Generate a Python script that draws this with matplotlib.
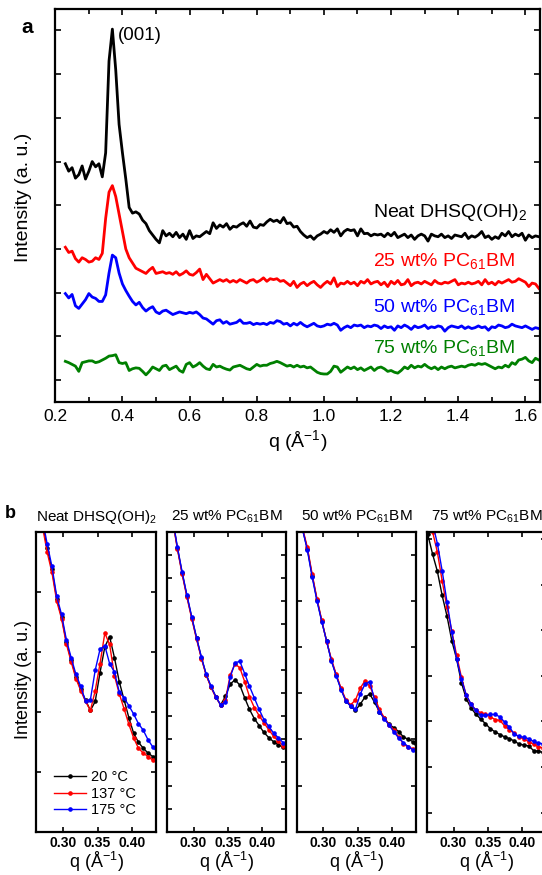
import matplotlib
matplotlib.use("Agg")
import matplotlib.pyplot as plt
import numpy as np
from matplotlib.ticker import MultipleLocator

plt.rcParams["font.family"] = ["Liberation Sans", "DejaVu Sans"]
plt.rcParams["mathtext.fontset"] = "custom"
plt.rcParams["mathtext.rm"] = "Liberation Sans"
plt.rcParams["mathtext.it"] = "Liberation Sans:italic"
plt.rcParams["mathtext.bf"] = "Liberation Sans:bold"

# ---------------------------------------------------------------
# (a) 1D GIWAXS line cuts, offset for clarity (arb. units)
# ---------------------------------------------------------------
q_a = np.round(np.arange(0.23, 1.645, 0.01), 2)

neat_a = [4.95, 4.78, 4.86, 4.62, 4.70, 4.90, 4.60, 4.78, 5.00, 4.88,
          4.95, 4.65, 5.20, 7.30, 8.03, 7.10, 5.85, 5.20, 4.60, 3.95,
          3.82, 3.85, 3.80, 3.66, 3.58, 3.42, 3.32, 3.22, 3.14, 3.42,
          3.30, 3.36, 3.28, 3.38, 3.26, 3.34, 3.22, 3.42, 3.24, 3.30,
          3.28, 3.34, 3.40, 3.35, 3.60, 3.47, 3.55, 3.50, 3.58, 3.45,
          3.52, 3.50, 3.56, 3.60, 3.52, 3.64, 3.50, 3.48, 3.56, 3.54,
          3.62, 3.68, 3.63, 3.66, 3.60, 3.72, 3.58, 3.60, 3.50, 3.52,
          3.40, 3.32, 3.26, 3.30, 3.22, 3.30, 3.34, 3.40, 3.36, 3.44,
          3.38, 3.46, 3.30, 3.40, 3.45, 3.42, 3.44, 3.30, 3.46, 3.35,
          3.36, 3.30, 3.34, 3.32, 3.34, 3.28, 3.36, 3.30, 3.38, 3.26,
          3.30, 3.34, 3.26, 3.32, 3.22, 3.30, 3.34, 3.30, 3.18, 3.34,
          3.30, 3.28, 3.34, 3.26, 3.30, 3.24, 3.32, 3.30, 3.28, 3.36,
          3.24, 3.30, 3.27, 3.32, 3.40, 3.26, 3.30, 3.22, 3.28, 3.24,
          3.36, 3.30, 3.40, 3.28, 3.34, 3.30, 3.36, 3.20, 3.32, 3.26,
          3.30, 3.28]

pc25_a = [3.04, 2.92, 2.95, 2.78, 2.70, 2.80, 2.76, 2.70, 2.72, 2.80,
          2.76, 2.90, 3.70, 4.30, 4.45, 4.20, 3.80, 3.40, 3.00, 2.80,
          2.68, 2.56, 2.52, 2.48, 2.44, 2.52, 2.58, 2.44, 2.46, 2.48,
          2.44, 2.46, 2.42, 2.48, 2.40, 2.44, 2.50, 2.42, 2.40, 2.46,
          2.54, 2.30, 2.42, 2.32, 2.22, 2.26, 2.30, 2.26, 2.30, 2.24,
          2.28, 2.24, 2.30, 2.26, 2.22, 2.28, 2.30, 2.24, 2.28, 2.34,
          2.26, 2.32, 2.30, 2.32, 2.26, 2.28, 2.22, 2.16, 2.26, 2.12,
          2.20, 2.24, 2.16, 2.22, 2.26, 2.18, 2.12, 2.20, 2.26, 2.20,
          2.34, 2.14, 2.22, 2.20, 2.26, 2.20, 2.24, 2.16, 2.26, 2.22,
          2.30, 2.20, 2.24, 2.26, 2.18, 2.24, 2.14, 2.26, 2.20, 2.28,
          2.18, 2.20, 2.30, 2.16, 2.22, 2.24, 2.20, 2.26, 2.22, 2.18,
          2.28, 2.22, 2.20, 2.24, 2.22, 2.26, 2.30, 2.18, 2.22, 2.20,
          2.24, 2.20, 2.22, 2.26, 2.18, 2.30, 2.20, 2.24, 2.18, 2.26,
          2.22, 2.26, 2.30, 2.24, 2.26, 2.32, 2.28, 2.24, 2.14, 2.22,
          2.20, 2.10]

pc50_a = [1.98, 1.88, 1.96, 1.70, 1.64, 1.74, 1.84, 1.98, 1.90, 1.87,
          1.80, 1.80, 1.95, 2.45, 2.86, 2.80, 2.45, 2.20, 2.05, 1.92,
          1.80, 1.72, 1.78, 1.66, 1.58, 1.64, 1.68, 1.56, 1.52, 1.58,
          1.60, 1.55, 1.50, 1.53, 1.56, 1.54, 1.52, 1.55, 1.53, 1.56,
          1.50, 1.42, 1.40, 1.34, 1.28, 1.36, 1.38, 1.30, 1.34, 1.28,
          1.30, 1.32, 1.38, 1.30, 1.30, 1.32, 1.27, 1.30, 1.28, 1.30,
          1.27, 1.32, 1.30, 1.36, 1.34, 1.28, 1.30, 1.24, 1.30, 1.26,
          1.32, 1.26, 1.22, 1.26, 1.30, 1.24, 1.22, 1.24, 1.28, 1.26,
          1.30, 1.26, 1.14, 1.20, 1.24, 1.20, 1.26, 1.24, 1.26, 1.20,
          1.24, 1.22, 1.26, 1.24, 1.18, 1.24, 1.20, 1.22, 1.14, 1.24,
          1.20, 1.26, 1.22, 1.16, 1.24, 1.20, 1.22, 1.26, 1.18, 1.22,
          1.20, 1.24, 1.22, 1.12, 1.20, 1.24, 1.22, 1.20, 1.24, 1.18,
          1.22, 1.18, 1.20, 1.24, 1.20, 1.22, 1.14, 1.22, 1.20, 1.26,
          1.24, 1.20, 1.22, 1.28, 1.24, 1.22, 1.20, 1.24, 1.20, 1.16,
          1.20, 1.18]

pc75_a = [0.43, 0.40, 0.36, 0.32, 0.20, 0.40, 0.42, 0.44, 0.44, 0.40,
          0.42, 0.46, 0.50, 0.55, 0.56, 0.58, 0.40, 0.38, 0.40, 0.22,
          0.26, 0.28, 0.27, 0.20, 0.12, 0.20, 0.30, 0.26, 0.22, 0.32,
          0.34, 0.24, 0.28, 0.32, 0.22, 0.18, 0.36, 0.40, 0.30, 0.34,
          0.40, 0.32, 0.26, 0.24, 0.36, 0.30, 0.32, 0.28, 0.25, 0.23,
          0.30, 0.32, 0.34, 0.30, 0.26, 0.24, 0.30, 0.36, 0.32, 0.34,
          0.34, 0.38, 0.40, 0.43, 0.40, 0.36, 0.32, 0.34, 0.30, 0.34,
          0.30, 0.32, 0.28, 0.30, 0.24, 0.18, 0.15, 0.14, 0.14, 0.20,
          0.32, 0.30, 0.18, 0.24, 0.30, 0.26, 0.30, 0.24, 0.28, 0.22,
          0.26, 0.30, 0.22, 0.28, 0.30, 0.26, 0.20, 0.22, 0.18, 0.16,
          0.22, 0.30, 0.26, 0.34, 0.28, 0.32, 0.30, 0.36, 0.30, 0.26,
          0.30, 0.24, 0.30, 0.26, 0.30, 0.32, 0.28, 0.30, 0.32, 0.30,
          0.34, 0.36, 0.34, 0.38, 0.36, 0.38, 0.34, 0.30, 0.26, 0.30,
          0.28, 0.34, 0.30, 0.40, 0.36, 0.46, 0.48, 0.52, 0.44, 0.40,
          0.50, 0.46]

series_a = [neat_a, pc25_a, pc50_a, pc75_a]
colors_a = ["black", "#ff0000", "#0000ff", "#008000"]
labels_a = ["Neat DHSQ(OH)$_2$", "25 wt% PC$_{61}$BM",
            "50 wt% PC$_{61}$BM", "75 wt% PC$_{61}$BM"]
label_y_a = [3.73, 2.61, 1.56, 0.61]

# ---------------------------------------------------------------
# (b) temperature series around the (001) peak
# ---------------------------------------------------------------
q_b = [0.2625, 0.2695, 0.2765, 0.2835, 0.2905, 0.2975, 0.3045, 0.3115,
       0.3185, 0.3255, 0.3325, 0.3395, 0.3465, 0.3535, 0.3605, 0.3675,
       0.3745, 0.3815, 0.3885, 0.3955, 0.4025, 0.4095, 0.4165, 0.4235,
       0.4305, 0.4375]

temps = ["20 °C", "137 °C", "175 °C"]
colors_b = ["black", "#ff0000", "#0000ff"]
titles_b = ["Neat DHSQ(OH)$_2$", "25 wt% PC$_{61}$BM",
            "50 wt% PC$_{61}$BM", "75 wt% PC$_{61}$BM"]

neat_20 = [5.60, 5.15, 4.72, 4.37, 3.88, 3.58, 3.16, 2.86, 2.58, 2.37,
           2.19, 2.02, 2.17, 2.65, 3.08, 3.25, 2.90, 2.50, 2.20, 1.90,
           1.64, 1.49, 1.39, 1.31, 1.25, 1.20]
neat_137 = [5.55, 5.10, 4.66, 4.32, 3.84, 3.55, 3.13, 2.83, 2.55, 2.35,
            2.17, 2.02, 2.35, 2.80, 3.31, 3.12, 2.60, 2.30, 2.05, 1.79,
            1.56, 1.39, 1.31, 1.25, 1.19, 1.15]
neat_175 = [5.65, 5.22, 4.80, 4.42, 3.92, 3.62, 3.20, 2.90, 2.62, 2.42,
            2.17, 2.20, 2.69, 3.04, 3.10, 2.80, 2.66, 2.33, 2.23, 2.10,
            1.96, 1.80, 1.69, 1.53, 1.41, 1.32]

pc25_20 = [14.8, 13.56, 12.30, 11.20, 10.20, 9.27, 8.38, 7.54, 6.80, 6.28,
           5.85, 5.49, 5.87, 6.40, 6.58, 6.35, 5.80, 5.30, 4.90, 4.60,
           4.30, 4.08, 3.90, 3.77, 3.65, 3.55]
pc25_137 = [14.8, 13.50, 12.25, 11.15, 10.15, 9.22, 8.33, 7.50, 6.78, 6.25,
            5.82, 5.49, 5.70, 6.80, 7.27, 7.10, 6.50, 5.85, 5.38, 5.03,
            4.72, 4.42, 4.14, 3.92, 3.72, 3.55]
pc25_175 = [14.8, 13.60, 12.34, 11.24, 10.24, 9.30, 8.40, 7.56, 6.82, 6.30,
            5.85, 5.49, 5.60, 6.70, 7.32, 7.38, 6.85, 6.30, 5.80, 5.30,
            4.86, 4.56, 4.28, 4.07, 3.86, 3.70]

pc50_20 = [6.97, 6.55, 6.13, 5.55, 5.03, 4.56, 4.14, 3.71, 3.39, 3.09,
           2.84, 2.72, 2.63, 2.76, 2.92, 2.98, 2.80, 2.60, 2.46, 2.33,
           2.25, 2.17, 2.05, 2.00, 1.95, 1.78]
pc50_137 = [6.97, 6.58, 6.16, 5.58, 5.05, 4.58, 4.12, 3.74, 3.41, 3.11,
            2.86, 2.75, 2.85, 3.11, 3.27, 3.15, 2.91, 2.65, 2.47, 2.32,
            2.20, 2.05, 1.90, 1.83, 1.80, 1.78]
pc50_175 = [6.97, 6.55, 6.10, 5.52, 5.00, 4.55, 4.13, 3.70, 3.38, 3.08,
            2.83, 2.72, 2.65, 2.98, 3.20, 3.25, 2.85, 2.60, 2.44, 2.31,
            2.16, 2.03, 1.93, 1.84, 1.77, 1.70]

pc75_20 = [6.10, 5.67, 5.29, 4.76, 4.31, 3.77, 3.37, 2.85, 2.50, 2.29,
           2.16, 2.05, 1.95, 1.84, 1.77, 1.71, 1.66, 1.62, 1.57, 1.50,
           1.48, 1.46, 1.36, 1.34, 1.32, 1.30]
pc75_137 = [6.60, 6.16, 5.71, 5.08, 4.50, 3.98, 3.45, 2.97, 2.57, 2.37,
            2.25, 2.19, 2.15, 2.10, 2.04, 2.02, 1.90, 1.81, 1.74, 1.65,
            1.62, 1.55, 1.50, 1.44, 1.42, 1.40]
pc75_175 = [6.80, 6.35, 5.90, 5.30, 4.62, 3.96, 3.37, 2.93, 2.58, 2.38,
            2.24, 2.13, 2.13, 2.15, 2.15, 2.10, 1.98, 1.87, 1.72, 1.67,
            1.65, 1.62, 1.56, 1.52, 1.51, 1.50]

series_b = [[neat_20, neat_137, neat_175],
            [pc25_20, pc25_137, pc25_175],
            [pc50_20, pc50_137, pc50_175],
            [pc75_20, pc75_137, pc75_175]]
ylims_b = [(0, 5), (0, 13), (0, 6.5), (-0.42, 6.16)]
yticks_b = [range(0, 6), range(0, 14), range(0, 7), range(0, 7)]

q_label = "q (Å$^{-1}$)"

fig = plt.figure(figsize=(5.42, 8.75), dpi=100)

# ----------------------------- panel a -----------------------------
ax = fig.add_axes([0.102, 0.5406, 0.894, 0.4496])
for y, c in zip(series_a, colors_a):
    ax.plot(q_a, y, color=c, lw=2.0)
for lab, c, yl in zip(labels_a, colors_a, label_y_a):
    ax.text(1.145, yl, lab, color=c, fontsize=14, ha="left", va="baseline")
ax.text(0.387, 7.79, "(001)", fontsize=13.5, ha="left", va="baseline")

ax.set_xlim(0.2, 1.643)
ax.set_ylim(-0.5, 8.5)
ax.set_xticks([0.2, 0.4, 0.6, 0.8, 1.0, 1.2, 1.4, 1.6])
ax.set_xticklabels(["0.2", "0.4", "0.6", "0.8", "1.0", "1.2", "1.4", "1.6"])
ax.xaxis.set_minor_locator(MultipleLocator(0.1))
ax.set_yticks(range(0, 9))
ax.set_yticklabels([])
ax.tick_params(which="both", direction="in", top=True, right=True,
               width=1.2, labelsize=12.5, pad=5)
ax.tick_params(which="major", length=4)
ax.tick_params(which="minor", length=3.5)
for sp in ax.spines.values():
    sp.set_linewidth(1.6)
ax.set_xlabel(q_label, fontsize=14, labelpad=3)

fig.text(0.043, 0.774, "Intensity (a. u.)", rotation=90, fontsize=14,
         ha="center", va="center")
fig.text(0.039, 0.962, "a", fontsize=15, fontweight="bold", ha="left",
         va="baseline")

# ----------------------------- panel b -----------------------------
lefts_b = [0.0673, 0.3076, 0.5474, 0.7873]
for i, left in enumerate(lefts_b):
    axb = fig.add_axes([left, 0.0495, 0.2205, 0.3429])
    for y, c, t in zip(series_b[i], colors_b, temps):
        axb.plot(q_b, y, color=c, lw=1.0, marker="o", ms=2.3, label=t)
    axb.set_xlim(0.261, 0.435)
    axb.set_ylim(*ylims_b[i])
    axb.set_xticks([0.30, 0.35, 0.40])
    axb.set_xticklabels(["0.30", "0.35", "0.40"], fontweight="bold")
    axb.set_yticks(list(yticks_b[i]))
    axb.set_yticklabels([])
    axb.tick_params(direction="in", top=True, right=True, length=3.5,
                    width=1.2, labelsize=10, pad=3)
    for sp in axb.spines.values():
        sp.set_linewidth(1.6)
    axb.set_title(titles_b[i], fontsize=11, pad=8)
    axb.set_xlabel(q_label, fontsize=13, labelpad=0)
    if i == 0:
        axb.legend(loc="lower left", bbox_to_anchor=(0.1, 0.03),
                   frameon=False, fontsize=10.5, handlelength=2.2,
                   handletextpad=0.3, labelspacing=0.15, borderaxespad=0)

fig.text(0.044, 0.223, "Intensity (a. u.)", rotation=90, fontsize=13,
         ha="center", va="center")
fig.text(0.009, 0.408, "b", fontsize=13, fontweight="bold", ha="left",
         va="baseline")

fig.savefig("out.png", dpi=100)
